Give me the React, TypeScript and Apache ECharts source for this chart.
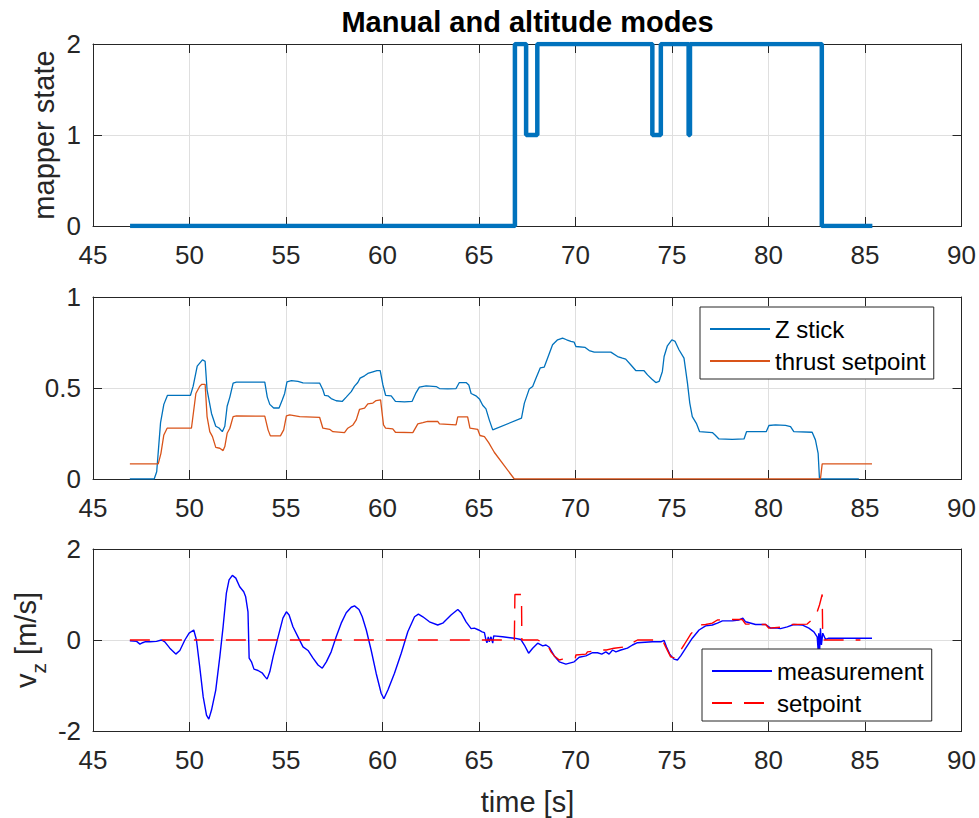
import React, { useEffect, useRef } from 'react';
import * as echarts from 'echarts';

// ---- data ----
const xTickMin = 45;
const xTickMax = 90;
const xTickStep = 5;

// mapper state (held value from t until the next point)
const mapperState: [number, number][] = [
  [46.92, 0], [66.86, 2], [67.44, 1], [68.02, 2], [73.98, 1], [74.42, 2],
  [75.86, 1], [75.93, 2], [82.76, 0], [85.38, 0],
];

const zStick: [number, number][] = [
  [46.91, 0], [48.17, 0], [48.3, 0.04], [48.5, 0.31], [48.67, 0.41], [48.86, 0.46], [50.05, 0.46],
  [50.19, 0.51], [50.4, 0.62], [50.67, 0.655], [50.81, 0.646], [50.91, 0.49], [51.14, 0.36],
  [51.36, 0.29], [51.53, 0.28], [51.7, 0.26], [51.83, 0.29], [51.95, 0.4], [52.09, 0.45],
  [52.26, 0.527], [52.43, 0.532], [53.9, 0.532], [54.03, 0.45], [54.16, 0.41], [54.36, 0.39],
  [54.64, 0.39], [54.81, 0.435], [54.93, 0.47], [55.05, 0.534], [55.28, 0.54], [55.62, 0.536],
  [55.88, 0.528], [56.74, 0.527], [56.91, 0.49], [57.0, 0.46], [57.17, 0.457], [57.34, 0.442],
  [57.6, 0.43], [57.91, 0.426], [58.12, 0.45], [58.38, 0.48], [58.55, 0.51], [58.72, 0.53],
  [58.84, 0.554], [59.07, 0.567], [59.24, 0.58], [59.5, 0.589], [59.71, 0.596], [59.88, 0.595],
  [60.02, 0.517], [60.16, 0.46], [60.45, 0.457], [60.67, 0.426], [61.14, 0.424], [61.53, 0.426],
  [61.74, 0.475], [61.91, 0.505], [62.26, 0.512], [62.78, 0.508], [62.95, 0.497], [63.38, 0.495],
  [63.81, 0.497], [63.98, 0.53], [64.33, 0.53], [64.47, 0.517], [64.59, 0.47], [64.84, 0.457],
  [65.02, 0.44], [65.19, 0.405], [65.36, 0.385], [65.53, 0.325], [65.71, 0.27], [67.2, 0.334],
  [67.35, 0.417], [67.6, 0.494], [67.78, 0.508], [67.95, 0.554], [68.17, 0.61], [68.38, 0.615],
  [68.55, 0.664], [68.81, 0.738], [69.07, 0.765], [69.33, 0.774], [69.54, 0.765], [69.76, 0.756],
  [69.93, 0.752], [70.02, 0.728], [70.5, 0.723], [70.71, 0.706], [70.97, 0.697], [71.83, 0.697],
  [72.18, 0.673], [72.43, 0.664], [72.6, 0.659], [72.86, 0.628], [73.12, 0.596], [73.55, 0.595],
  [73.73, 0.572], [73.95, 0.549], [74.16, 0.53], [74.33, 0.536], [74.5, 0.591], [74.59, 0.673],
  [74.76, 0.732], [74.99, 0.765], [75.16, 0.756], [75.36, 0.71], [75.62, 0.664], [75.8, 0.527],
  [75.92, 0.417], [76.05, 0.343], [76.26, 0.306], [76.43, 0.26], [77.09, 0.255], [77.23, 0.242],
  [77.43, 0.22], [78.12, 0.218], [78.73, 0.22], [78.86, 0.26], [79.88, 0.26], [80.02, 0.294],
  [80.36, 0.297], [80.88, 0.295], [81.14, 0.288], [81.31, 0.26], [82.26, 0.257], [82.43, 0.215],
  [82.57, 0.141], [82.64, 0], [84.68, 0],
];

const thrustSetpoint: [number, number][] = [
  [46.91, 0.083], [48.38, 0.083], [48.52, 0.141], [48.67, 0.242], [48.84, 0.279], [50.1, 0.279],
  [50.33, 0.47], [50.53, 0.51], [50.64, 0.52], [50.81, 0.52], [50.91, 0.343], [51.05, 0.26],
  [51.19, 0.233], [51.36, 0.174], [51.57, 0.169], [51.74, 0.156], [51.83, 0.178], [51.95, 0.251],
  [52.09, 0.279], [52.26, 0.343], [52.43, 0.347], [53.9, 0.345], [54.07, 0.27], [54.19, 0.237],
  [54.71, 0.237], [54.88, 0.27], [55.02, 0.347], [55.19, 0.352], [55.71, 0.343], [56.74, 0.339],
  [56.91, 0.279], [57.26, 0.273], [57.43, 0.26], [58.03, 0.255], [58.2, 0.279], [58.47, 0.297],
  [58.64, 0.325], [58.81, 0.383], [59.07, 0.389], [59.24, 0.413], [59.5, 0.417], [59.67, 0.431],
  [59.9, 0.435], [60.05, 0.297], [60.16, 0.279], [60.53, 0.275], [60.67, 0.257], [61.57, 0.255],
  [61.83, 0.303], [62.09, 0.31], [62.34, 0.317], [62.86, 0.316], [62.95, 0.303], [63.81, 0.297],
  [63.9, 0.341], [64.41, 0.341], [64.53, 0.279], [64.93, 0.273], [65.05, 0.239], [65.28, 0.233],
  [65.5, 0.2], [65.79, 0.147], [66.83, 0], [82.69, 0], [82.78, 0.083], [85.36, 0.083],
];

const vzMeasurement: [number, number][] = [
  [46.91, -0.015], [47.26, -0.03], [47.43, -0.09], [47.57, -0.06], [47.69, -0.04], [47.95, -0.04],
  [48.29, -0.03], [48.55, 0], [48.72, -0.04], [48.98, -0.18], [49.29, -0.31], [49.5, -0.23],
  [49.76, 0], [49.98, 0.15], [50.22, 0.22], [50.36, 0], [50.53, -0.59], [50.71, -1.25],
  [50.88, -1.65], [51.0, -1.74], [51.14, -1.54], [51.36, -1.1], [51.57, -0.37], [51.74, 0.29],
  [51.91, 1.03], [52.05, 1.32], [52.22, 1.42], [52.4, 1.36], [52.6, 1.17], [52.81, 1.06],
  [52.91, 0.95], [53.03, 0.62], [53.09, -0.4], [53.21, -0.48], [53.34, -0.64], [53.55, -0.67],
  [53.78, -0.73], [53.9, -0.8], [54.02, -0.86], [54.16, -0.7], [54.33, -0.37], [54.59, 0.07],
  [54.84, 0.48], [55.02, 0.62], [55.16, 0.55], [55.36, 0.29], [55.62, 0.07], [55.88, -0.15],
  [56.14, -0.23], [56.4, -0.4], [56.66, -0.55], [56.88, -0.62], [57.09, -0.48], [57.34, -0.26],
  [57.6, 0.07], [57.86, 0.37], [58.12, 0.6], [58.38, 0.72], [58.55, 0.75], [58.78, 0.67],
  [58.95, 0.51], [59.16, 0.22], [59.41, -0.22], [59.67, -0.73], [59.93, -1.17], [60.07, -1.29],
  [60.28, -1.1], [60.62, -0.73], [60.97, -0.29], [61.31, 0.18], [61.66, 0.51], [61.86, 0.57],
  [62.09, 0.51], [62.43, 0.4], [62.86, 0.33], [63.12, 0.37], [63.55, 0.55], [63.9, 0.67],
  [64.07, 0.6], [64.33, 0.4], [64.59, 0.25], [64.76, 0.26], [64.98, 0.22], [65.16, 0.18],
  [65.28, 0.16], [65.36, 0], [65.41, -0.06], [65.48, 0.07], [65.53, -0.04], [65.62, 0.07],
  [65.71, -0.07], [65.76, 0.09], [66.22, 0.07], [66.83, 0.04], [67.17, 0.01], [67.35, -0.11],
  [67.57, -0.29], [67.78, -0.18], [68.04, -0.07], [68.3, -0.13], [68.47, -0.11], [68.64, -0.16],
  [68.9, -0.35], [69.16, -0.48], [69.5, -0.53], [69.93, -0.48], [70.19, -0.38], [70.54, -0.35],
  [70.88, -0.28], [71.14, -0.28], [71.36, -0.31], [71.57, -0.26], [71.74, -0.31], [71.92, -0.22],
  [72.09, -0.26], [72.35, -0.22], [72.69, -0.18], [72.95, -0.11], [73.21, -0.06], [73.99, -0.04],
  [74.42, -0.04], [74.59, -0.01], [74.71, -0.15], [74.88, -0.31], [75.1, -0.42], [75.28, -0.44],
  [75.45, -0.35], [75.71, -0.18], [76.05, 0.04], [76.4, 0.22], [76.74, 0.31], [77.09, 0.33],
  [77.35, 0.37], [77.61, 0.42], [78.12, 0.42], [78.47, 0.44], [78.67, 0.48], [78.81, 0.4],
  [79.33, 0.34], [79.85, 0.34], [80.11, 0.26], [80.37, 0.27], [80.62, 0.25], [80.97, 0.29],
  [81.31, 0.34], [81.74, 0.33], [82.09, 0.26], [82.35, 0.18], [82.52, 0.07], [82.57, -0.22],
  [82.6, 0.15], [82.64, -0.33], [82.69, 0.26], [82.74, -0.11], [82.81, 0.15], [82.95, 0.015],
  [83.12, 0.04], [85.36, 0.04],
];

const vzSetpoint: [number, number][] = [
  [46.91, 0], [66.83, 0], [66.86, 1], [67.2, 1], [67.22, 0], [68.04, 0], [68.55, -0.11],
  [68.73, -0.26], [68.9, -0.35], [69.16, -0.44], [69.33, -0.42], [69.67, -0.4], [69.99, -0.39],
  [70.02, -0.33], [70.54, -0.31], [70.62, -0.26], [71.4, -0.22], [71.6, -0.22], [72.0, -0.18],
  [72.6, -0.15], [72.78, -0.1], [73.21, 0], [74.5, 0], [74.67, -0.15], [74.93, -0.37],
  [75.19, -0.4], [75.45, -0.22], [75.62, -0.11], [75.97, 0.13], [76.4, 0.33], [76.74, 0.34],
  [77.09, 0.37], [77.35, 0.44], [77.78, 0.45], [78.64, 0.45], [78.81, 0.35], [79.85, 0.34],
  [80.02, 0.26], [80.62, 0.28], [81.23, 0.34], [82.0, 0.35], [82.35, 0.48], [82.52, 0.62],
  [82.64, 0.77], [82.78, 1.0], [82.81, 0], [84.76, 0],
];

const yRanges = [
  { min: 0, max: 2, interval: 1 },
  { min: 0, max: 1, interval: 0.5 },
  { min: -2, max: 2, interval: 2 },
];

const titleText = 'Manual and altitude modes';
const yLabel1 = 'mapper state';
const xLabel = 'time [s]';

// ---- layout / style ----
const FONT = 'Liberation Sans';
const AX = '#262626';
const GRIDC = '#dfdfdf';
const LEFT = 93;
const WIDTH = 869;
const TOPS = [44, 297, 549];
const HEIGHT = 182;

function buildOption() {
  const grid = TOPS.map((top) => ({ left: LEFT, width: WIDTH, top, height: HEIGHT }));
  const axisLine = { show: true, onZero: false, lineStyle: { color: AX, width: 1 } };
  const axisTick = { show: true, inside: true, length: 9, lineStyle: { color: AX, width: 1 } };
  const xAxis: any[] = [];
  const yAxis: any[] = [];
  TOPS.forEach((_, i) => {
    xAxis.push({
      type: 'value', gridIndex: i, position: 'bottom', min: xTickMin, max: xTickMax, interval: xTickStep,
      axisLine, axisTick,
      axisLabel: { show: true, margin: 16, fontSize: 26, lineHeight: 26, color: AX, fontFamily: FONT },
      splitLine: { show: true, lineStyle: { color: GRIDC, width: 1 } },
    });
    xAxis.push({
      type: 'value', gridIndex: i, position: 'top', min: xTickMin, max: xTickMax, interval: xTickStep,
      axisLine, axisTick, axisLabel: { show: false }, splitLine: { show: false },
    });
    const r = yRanges[i];
    yAxis.push({
      type: 'value', gridIndex: i, position: 'left', min: r.min, max: r.max, interval: r.interval,
      axisLine, axisTick,
      axisLabel: { show: true, margin: 12, fontSize: 26, color: AX, fontFamily: FONT },
      splitLine: { show: true, lineStyle: { color: GRIDC, width: 1 } },
    });
    yAxis.push({
      type: 'value', gridIndex: i, position: 'right', min: r.min, max: r.max, interval: r.interval,
      axisLine, axisTick, axisLabel: { show: false }, splitLine: { show: false },
    });
  });

  const legendBase = {
    orient: 'vertical',
    itemWidth: 60,
    itemHeight: 12,
    itemGap: 8,
    padding: [10, 8, 6, 9],
    borderColor: AX,
    borderWidth: 1,
    borderRadius: 0,
    backgroundColor: '#ffffff',
    selectedMode: false,
    itemStyle: { opacity: 0 },
    textStyle: { fontSize: 24, lineHeight: 24, color: '#000000', fontFamily: FONT },
  };

  return {
    animation: false,
    backgroundColor: '#ffffff',
    textStyle: { fontFamily: FONT },
    grid,
    xAxis,
    yAxis,
    legend: [
      { ...legendBase, data: ['Z stick', 'thrust setpoint'], left: 700, top: 307 },
      { ...legendBase, data: ['measurement', 'setpoint'], left: 702, top: 649 },
    ],
    series: [
      {
        name: 'mapper state', type: 'line', xAxisIndex: 0, yAxisIndex: 0, step: 'end',
        data: mapperState, symbol: 'none', lineStyle: { color: '#0072BD', width: 4.5 },
        itemStyle: { color: '#0072BD' },
      },
      {
        name: 'Z stick', type: 'line', xAxisIndex: 2, yAxisIndex: 2,
        data: zStick, symbol: 'none', lineStyle: { color: '#0072BD', width: 1.3 },
        itemStyle: { color: '#0072BD' },
      },
      {
        name: 'thrust setpoint', type: 'line', xAxisIndex: 2, yAxisIndex: 2,
        data: thrustSetpoint, symbol: 'none', lineStyle: { color: '#D95319', width: 1.3 },
        itemStyle: { color: '#D95319' },
      },
      {
        name: 'measurement', type: 'line', xAxisIndex: 4, yAxisIndex: 4,
        data: vzMeasurement, symbol: 'none', lineStyle: { color: '#0000FF', width: 1.4 },
        itemStyle: { color: '#0000FF' },
      },
      {
        name: 'setpoint', type: 'line', xAxisIndex: 4, yAxisIndex: 4,
        data: vzSetpoint, symbol: 'none',
        lineStyle: { color: '#FF0000', width: 1.4, type: [20, 12] },
        itemStyle: { color: '#FF0000' },
      },
    ],
    graphic: [
      {
        type: 'text', x: LEFT + WIDTH / 2, y: 22,
        style: {
          text: titleText, fontSize: 29, fontWeight: 'bold', fontFamily: FONT, fill: '#000000',
          align: 'center', verticalAlign: 'middle', textAlign: 'center', textVerticalAlign: 'middle',
        },
      },
      {
        type: 'text', x: 44, y: TOPS[0] + HEIGHT / 2, rotation: Math.PI / 2,
        style: {
          text: yLabel1, fontSize: 29, fontFamily: FONT, fill: AX,
          align: 'center', verticalAlign: 'middle', textAlign: 'center', textVerticalAlign: 'middle',
        },
      },
      {
        type: 'text', x: 26, y: TOPS[2] + HEIGHT / 2, rotation: Math.PI / 2,
        style: {
          text: '{a|v}{b|z}{a| [m/s]}',
          rich: {
            a: { fontSize: 29, lineHeight: 29, fontFamily: FONT, fill: AX, color: AX },
            b: { fontSize: 21, lineHeight: 21, fontFamily: FONT, fill: AX, color: AX, padding: [24, 0, 0, 0] },
          },
          fill: AX,
          align: 'center', verticalAlign: 'middle', textAlign: 'center', textVerticalAlign: 'middle',
        },
      },
      {
        type: 'text', x: LEFT + WIDTH / 2, y: 802,
        style: {
          text: xLabel, fontSize: 29, fontFamily: FONT, fill: AX,
          align: 'center', verticalAlign: 'middle', textAlign: 'center', textVerticalAlign: 'middle',
        },
      },
    ],
  };
}

export default function App() {
  const ref = useRef<HTMLDivElement | null>(null);
  useEffect(() => {
    if (!ref.current) return;
    const chart = echarts.init(ref.current, undefined, { renderer: 'svg' });
    chart.setOption(buildOption() as any);
    return () => chart.dispose();
  }, []);
  return <div ref={ref} style={{ width: 979, height: 818, position: 'absolute', left: 0, top: 0 }} />;
}
